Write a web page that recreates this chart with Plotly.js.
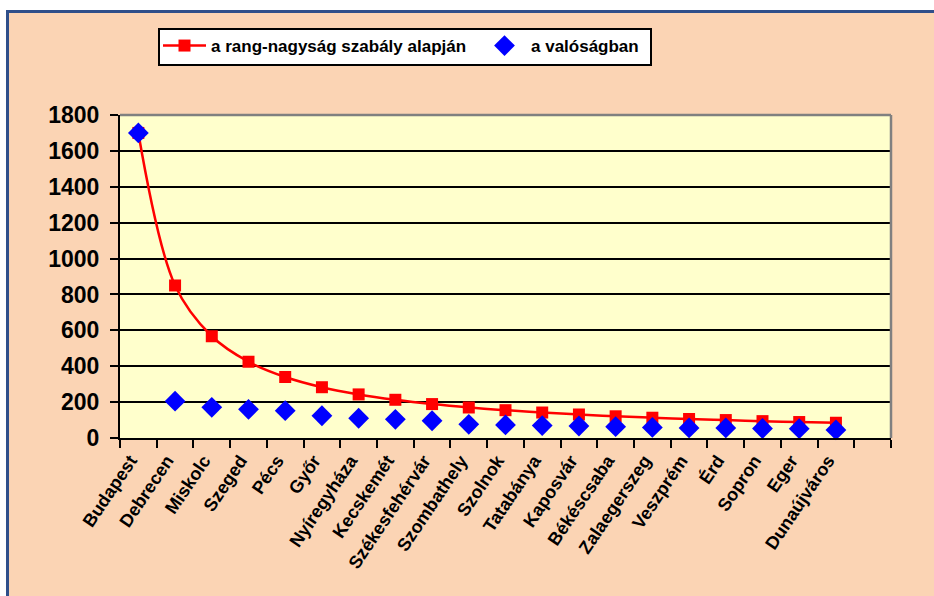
<!DOCTYPE html>
<html>
<head>
<meta charset="utf-8">
<script src="https://cdn.plot.ly/plotly-3.0.1.min.js"></script>
<style>
  html, body { margin: 0; padding: 0; background: #ffffff; }
  #wrap { position: relative; width: 934px; height: 596px; overflow: hidden; }
  #frame { position: absolute; left: 6px; top: 10px; width: 960px; height: 620px;
           background: #FBD4B4; border-left: 3px solid #2F4F8A; border-top: 3px solid #2F4F8A;
           box-sizing: border-box; }
  #chart { position: absolute; left: 0; top: 0; width: 934px; height: 596px; }
</style>
</head>
<body>
<div id="wrap">
  <div id="frame"></div>
  <div id="chart"></div>
</div>
<script>
const cities = ["Budapest","Debrecen","Miskolc","Szeged","Pécs","Győr","Nyíregyháza","Kecskemét",
  "Székesfehérvár","Szombathely","Szolnok","Tatabánya","Kaposvár","Békéscsaba","Zalaegerszeg",
  "Veszprém","Érd","Sopron","Eger","Dunaújváros"];
const rankSize = [1700,850,567,425,340,283,243,213,189,170,155,142,131,121,113,106,100,94,89,85];
const actual = [1700,205,171,160,152,124,110,104,96,76,73,69,67,63,59,56,56,53,52,45];
const categoryOrder = cities.concat([" "]);
const seriesNames = ["a rang-nagyság szabály alapján", "a valóságban"];

const L = 120, R = 891, T = 115, B = 438, W = 934, H = 596;
const px = v => (v - L) / (R - L);
const py = v => (B - v) / (B - T);

const traces = [
  {
    x: cities, y: rankSize, name: seriesNames[0], type: "scatter", mode: "lines+markers",
    line: {color: "#FF0000", width: 2.5, shape: "spline", smoothing: 1},
    marker: {symbol: "square", size: 12, color: "#FF0000"},
    cliponaxis: false
  },
  {
    x: cities, y: actual, name: seriesNames[1], type: "scatter", mode: "markers",
    marker: {symbol: "diamond", size: 16, color: "#0000FF"},
    cliponaxis: false
  }
];

const fontFam = "Liberation Sans, Arial, sans-serif";

const layout = {
  width: W, height: H,
  paper_bgcolor: "rgba(0,0,0,0)",
  plot_bgcolor: "#FFFFCC",
  margin: {l: L, r: W - R, t: T, b: H - B, pad: 0},
  showlegend: true,
  legend: {
    orientation: "h", x: px(158), y: py(28),
    xanchor: "left", yanchor: "top",
    bgcolor: "rgba(0,0,0,0)", borderwidth: 0, itemwidth: 43, entrywidth: 262,
    font: {family: fontFam, size: 17, color: "#000000", weight: 700}
  },
  xaxis: {
    type: "category", categoryorder: "array", categoryarray: categoryOrder,
    range: [-0.5, categoryOrder.length - 0.5],
    tickson: "boundaries", ticks: "outside", ticklen: 8, tickwidth: 2, tickcolor: "#000000",
    showline: true, linecolor: "#000000", linewidth: 2,
    showgrid: false, tickangle: -56, ticklabelshift: -8, ticklabelstandoff: 3,
    tickfont: {family: fontFam, size: 18, color: "#000000", weight: 700},
    fixedrange: true
  },
  yaxis: {
    range: [0, 1800], dtick: 200, tick0: 0,
    ticks: "outside", ticklen: 8, tickwidth: 2, tickcolor: "#000000",
    showline: true, linecolor: "#000000", linewidth: 2,
    showgrid: true, gridcolor: "#000000", gridwidth: 2, zeroline: false,
    ticklabelstandoff: 6,
    tickfont: {family: fontFam, size: 23, color: "#000000", weight: 700},
    fixedrange: true
  },
  shapes: [
    {type: "line", xref: "paper", yref: "paper", x0: 0, x1: 1, y0: 1, y1: 1,
     line: {color: "#808080", width: 2.5}},
    {type: "line", xref: "paper", yref: "paper", x0: 1, x1: 1, y0: 0, y1: 1,
     line: {color: "#808080", width: 2.5}},
    {type: "rect", xref: "paper", yref: "paper", x0: px(159), x1: px(651), y0: py(65), y1: py(29),
     fillcolor: "#FFFFFF", line: {color: "#000000", width: 2}}
  ]
};

Plotly.newPlot("chart", traces, layout, {displayModeBar: false, staticPlot: true});
</script>
</body>
</html>
